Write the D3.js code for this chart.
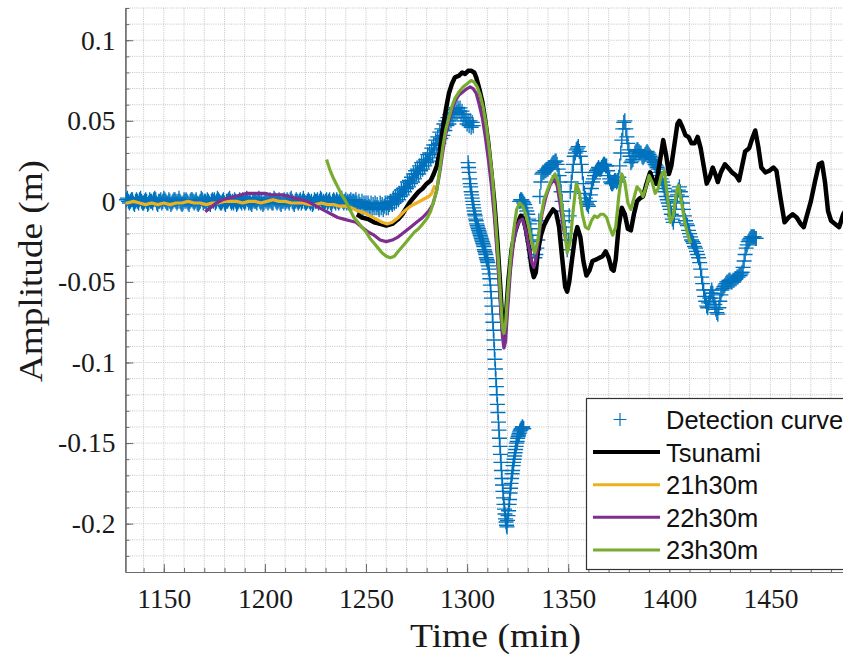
<!DOCTYPE html>
<html>
<head>
<meta charset="utf-8">
<script src="https://cdn.jsdelivr.net/npm/d3@7/dist/d3.min.js"></script>
<style>
	html, body { margin: 0; padding: 0; background: #fff; }
	svg { display: block; }
	.axis path, .axis line { stroke: #6a6a6a; }
	.axis text { font-family: 'Liberation Serif', serif; font-size: 27.5px; fill: #1a1a1a; }
	.grid line { stroke: #c4c4c4; stroke-width: 1; stroke-dasharray: 1,1.2; }
	.legend text { font-family: 'Liberation Sans', Arial, sans-serif; font-size: 25.5px; fill: #111; }
</style>
</head>
<body>
<div id="chart"></div>
<script>
/* global d3 */

// axis ticks
var xTicks = [1150, 1200, 1250, 1300, 1350, 1400, 1450];
var yTicks = [-0.2, -0.15, -0.1, -0.05, 0, 0.05, 0.1];
var yTickLabels = ['-0.2', '-0.15', '-0.1', '-0.05', '0', '0.05', '0.1'];

var seriesNames = ['Detection curve', 'Tsunami', '21h30m', '22h30m', '23h30m'];

// detection curve: uniformly sampled pieces, amplitudes in mm
var detStart = [1131.5, 1300.5, 1326];
var detStep = [0.5, 0.25, 0.5];

var detFlatMm = [
	1, 2, 0, -1, 0, 1, 1, -1, -2, 0, 1, 0, -1, 1, 2, 0, -1, -1, 0, 1,
	0, -2, -1, 1, 0, 0, -1, 1, 2, 1, -1, -2, 0, 0, 1, -1, 0, 2, 1, 0,
	-1, -1, 1, 0, -2, -1, 0, 1, 1, 0, -1, 0, 2, 0, -1, -2, -1, 1, 0, 1,
	0, -1, -2, 0, 1, 1, 0, -1, 0, 1, -1, -2, -1, 0, 2, 1, -1, 0, 0, -1,
	1, 0, -1, -2, 0, 1, 0, 1, -1, 0, 2, 1, 0, -1, -1, 0, 1, -1, -2, 0,
	0, 1, 2, 0, -1, 0, -1, 1, 0, -2, -1, 0, 1, 0, -1, 1, 0, -1, 0, 2,
	1, -1, 0, -1, -2, 0, 1, 0, 0, -1, 1, 2, 0, -1, 0, -2, -1, 1, 0, 1,
	-1, 0, 1, 0, -1, -1, 2, 1, 0, -1, 0, 1, -1, -2, 0, 0, 1, -1, 0, 1,
	0, -1, 1, 2, 0, -1, -2, 0, 1, 0, -1, 0, 1, -1, 0, 2, 0, -1, -1, 0,
	1, 0, -1, 0, -2, -1, 1, 0, 0, 1, -1, 0, 2, 1, -1, 0, -1, 0, 1, -1,
	0, 1, -1, -2, 0, 1, 0, -1, 1, 0, -1, 0, 1, 2, 0, -1, 0, 1, -1, 0,
	-1, 0, 1, -1, 0, 0, -1, 1
];

var detRiseMm = [
	-1, -3, 0, -2, -3, 0, -4, -1, -3, -1, -4, -1, -3, -4, -1, -5, -2, -4, -1, -4,
	-2, -4, -5, -1, -4, -2, -5, -3, -1, -4, -1, -4, -2, 0, -1, -2, 2, -1, 3, 0,
	4, 1, 5, 3, 7, 4, 8, 6, 9, 8, 12, 9, 13, 11, 15, 12, 17, 14, 19, 17,
	20, 17, 22, 19, 24, 20, 25, 22, 26, 24, 29, 25, 30, 27, 33, 29, 35, 32, 38, 35,
	40, 36, 43, 39, 45, 41, 48, 44, 50, 47, 52, 48, 54, 50, 55, 52, 57, 54, 58, 55,
	58, 56, 58, 54, 56, 52, 54, 50, 52, 48, 50, 47, 50, 46, 49, 47
];

var detDropMm = [
	24, 21, 18, 14, 11, 9, 6, 4, 2, 0, -2, -4, -6, -8, -9, -11, -12, -14, -15, -16,
	-17, -18, -19, -20, -21, -22, -23, -24, -25, -26, -27, -28, -30, -31, -32, -33, -35, -36, -37, -38,
	-40, -42, -45, -48, -52, -56, -60, -65, -70, -75, -80, -86, -92, -98, -104, -110, -115, -120, -126, -131,
	-137, -142, -147, -152, -157, -162, -167, -172, -176, -180, -184, -188, -191, -194, -197, -199, -201, -202, -198, -195,
	-192, -188, -185, -181, -178, -175, -172, -169, -167, -164, -162, -160, -158, -156, -154, -152, -150, -149, -147, -146,
	-145, -144, -143, -142, -142, -141, -141, -140, -140, -141, -141
];

var detTailMm = [
	0, 1, 1, 0, -1, -2, -4, -6, -8, -11, -14, -17, -21, -25, -30, -35, -33, -29, -24, -12,
	3, 12, 17, 18, 18, 19, 19, 20, 20, 21, 21, 22, 23, 24, 24, 25, 25, 23, 20, 16,
	12, 6, 0, -6, -12, -16, -20, -30, -24, -9, 6, 12, 18, 23, 28, 30, 32, 33, 34, 31,
	28, 23, 18, 11, 5, 2, -1, -2, -3, 0, 4, 8, 12, 14, 16, 18, 19, 20, 21, 20,
	20, 21, 22, 23, 23, 22, 22, 19, 16, 14, 12, 11, 11, 12, 13, 13, 12, 13, 15, 22,
	30, 38, 45, 49, 50, 45, 40, 36, 32, 28, 24, 25, 26, 28, 30, 31, 32, 32, 31, 30,
	30, 28, 27, 28, 29, 30, 31, 30, 29, 28, 27, 26, 25, 24, 23, 22, 21, 20, 18, 16,
	14, 12, 10, 8, 6, 3, 1, -1, -3, -5, -8, -11, -13, -9, -5, 0, 4, 7, 9, 6,
	3, -1, -5, -9, -12, -14, -15, -18, -20, -22, -24, -25, -26, -28, -29, -31, -33, -35, -38, -42,
	-47, -51, -55, -59, -62, -65, -66, -63, -60, -57, -55, -57, -60, -64, -67, -69, -70, -66, -62, -58,
	-55, -54, -53, -52, -51, -50, -50, -49, -49, -50, -50, -49, -49, -48, -48, -47, -47, -46, -46, -45,
	-44, -41, -37, -33, -29, -27, -25, -24, -23, -22, -22, -22, -22, -23, -23
];

// model curves: [time (min), amplitude (m)]
var tsunami = [
	[1245.5, -0.008], [1248, -0.010], [1251, -0.011], [1254, -0.013], [1257, -0.014], [1260, -0.015],
	[1263, -0.014], [1266, -0.011], [1268, -0.008], [1270, -0.004], [1272, 0.000], [1274, 0.003],
	[1276, 0.006], [1278, 0.008], [1280, 0.011], [1282, 0.013], [1283.5, 0.017], [1285, 0.022],
	[1286.5, 0.031], [1288, 0.045], [1289.5, 0.057], [1291, 0.067], [1292.5, 0.073], [1294, 0.077],
	[1296, 0.078], [1297.5, 0.080], [1299, 0.079], [1300.5, 0.081], [1302, 0.081], [1303.5, 0.080],
	[1304.5, 0.077], [1306, 0.070], [1307.5, 0.062], [1309, 0.050], [1310.5, 0.036], [1312, 0.018],
	[1313.5, -0.001], [1315, -0.025], [1316.5, -0.055], [1317.5, -0.077], [1318, -0.083], [1318.7, -0.080],
	[1319.5, -0.066], [1320.5, -0.048], [1322, -0.030], [1323.5, -0.020], [1325, -0.014], [1326.5, -0.009],
	[1327.5, -0.010], [1329, -0.017], [1330.5, -0.028], [1332, -0.042], [1333, -0.047], [1334, -0.044],
	[1335, -0.031], [1336.5, -0.021], [1338, -0.015], [1340, -0.010], [1342.5, -0.005], [1344, -0.007],
	[1345.5, -0.016], [1347, -0.035], [1348.5, -0.053], [1349.5, -0.056], [1350.5, -0.050], [1352, -0.035],
	[1353.5, -0.021], [1354.5, -0.016], [1356, -0.022], [1357.5, -0.037], [1359, -0.046], [1360.5, -0.043],
	[1362, -0.037], [1364, -0.036], [1365.5, -0.035], [1367, -0.034], [1368.5, -0.031], [1370, -0.035],
	[1371.5, -0.042], [1372.5, -0.043], [1373.5, -0.036], [1375, -0.015], [1376.5, -0.004], [1378, -0.008],
	[1379.5, -0.017], [1381, -0.018], [1382.5, -0.008], [1384, 0.000], [1385.5, 0.002], [1387, 0.003],
	[1388.5, 0.010], [1390.5, 0.018], [1392, 0.013], [1393.5, 0.011], [1395, 0.022], [1397, 0.038],
	[1398.5, 0.028], [1399.8, 0.017], [1401, 0.022], [1402.5, 0.035], [1404, 0.048], [1405, 0.050],
	[1406.5, 0.046], [1408, 0.041], [1409.5, 0.040], [1411, 0.036], [1412.5, 0.036], [1414, 0.040],
	[1415.5, 0.033], [1417, 0.022], [1418.5, 0.011], [1420, 0.015], [1421.5, 0.021], [1423, 0.016],
	[1424, 0.012], [1425.5, 0.018], [1427.5, 0.023], [1429, 0.021], [1431, 0.018], [1433, 0.016],
	[1434.5, 0.013], [1436, 0.022], [1437.5, 0.031], [1439.5, 0.033], [1441, 0.039], [1442.5, 0.044],
	[1444, 0.034], [1445.5, 0.021], [1447.5, 0.018], [1449.5, 0.019], [1451.5, 0.021], [1453, 0.019],
	[1455, 0.002], [1457, -0.013], [1459, -0.010], [1461, -0.008], [1463, -0.010], [1465, -0.014],
	[1466.5, -0.016], [1468, -0.009], [1470, 0.000], [1472, 0.012], [1474, 0.023], [1475.5, 0.024],
	[1477, 0.012], [1478.5, -0.006], [1480, -0.012], [1482, -0.014], [1484, -0.016], [1486, -0.008],
	[1488, -0.004]
];

var f2130 = [
	[1129.5, -0.001], [1132, -0.001], [1135, 0.000], [1138, -0.001], [1141, -0.002], [1144, -0.001],
	[1147, -0.002], [1150, -0.001], [1153, -0.002], [1156, -0.001], [1159, -0.001], [1162, 0.000],
	[1165, -0.001], [1168, -0.001], [1171, -0.002], [1174, -0.001], [1177, -0.001], [1180, 0.000],
	[1183, 0.000], [1186, 0.000], [1189, -0.001], [1192, 0.000], [1195, 0.000], [1198, -0.001],
	[1201, 0.000], [1204, 0.001], [1207, 0.000], [1210, 0.000], [1213, -0.001], [1216, -0.001],
	[1219, -0.001], [1222, -0.002], [1225, -0.002], [1228, -0.001], [1231, -0.002], [1234, -0.002],
	[1237, -0.003], [1240, -0.003], [1243, -0.004], [1246, -0.006], [1249, -0.007], [1252, -0.009],
	[1255, -0.011], [1258, -0.013], [1260.5, -0.014], [1263, -0.013], [1266, -0.010], [1269, -0.006],
	[1272, -0.003], [1275, -0.001], [1278, 0.001], [1281, 0.003], [1282.5, 0.005], [1284, 0.010]
];

var f2230 = [
	[1170.5, -0.0065], [1173, -0.004], [1176, -0.001], [1179, 0.001], [1182, 0.002], [1185, 0.003],
	[1188, 0.004], [1191, 0.005], [1194, 0.005], [1197, 0.005], [1200, 0.005], [1203, 0.004],
	[1206, 0.004], [1209, 0.004], [1212, 0.003], [1215, 0.002], [1218, 0.001], [1221, 0.000],
	[1224, -0.002], [1227, -0.004], [1230, -0.006], [1233, -0.008], [1236, -0.010], [1239, -0.011],
	[1242, -0.012], [1245, -0.013], [1248, -0.016], [1251, -0.019], [1254, -0.021], [1257, -0.024],
	[1260, -0.025], [1263, -0.024], [1266, -0.022], [1269, -0.019], [1272, -0.016], [1275, -0.013],
	[1278, -0.010], [1281, -0.006], [1283, -0.002], [1285, 0.007], [1286.5, 0.018], [1288, 0.031],
	[1289.5, 0.042], [1291, 0.050], [1292.5, 0.057], [1294, 0.062], [1296, 0.066], [1298, 0.068],
	[1300, 0.070], [1301.5, 0.071], [1303, 0.070], [1304.5, 0.067], [1306, 0.060], [1307.5, 0.052],
	[1309, 0.040], [1310.5, 0.026], [1312, 0.010], [1313.5, -0.010], [1315, -0.035], [1316.5, -0.065],
	[1317.5, -0.084], [1318.2, -0.091], [1319, -0.087], [1320, -0.068], [1321.5, -0.042], [1323, -0.025],
	[1324.5, -0.016], [1326, -0.012], [1327.5, -0.011], [1329, -0.018], [1330.5, -0.028], [1332, -0.038],
	[1333, -0.041], [1334, -0.036], [1335.5, -0.022], [1337, -0.008], [1339, 0.003], [1341, 0.010],
	[1343, 0.014], [1344.5, 0.010], [1346, -0.002], [1347.5, -0.016], [1349, -0.025]
];

var f2330 = [
	[1230.5, 0.026], [1232, 0.020], [1234, 0.014], [1236, 0.009], [1238, 0.004], [1240, 0.000],
	[1242, -0.005], [1244, -0.010], [1246, -0.013], [1248, -0.016], [1250, -0.019], [1252, -0.023],
	[1254, -0.026], [1256, -0.029], [1258, -0.032], [1260, -0.034], [1262, -0.035], [1264, -0.034],
	[1266, -0.031], [1268, -0.028], [1270, -0.025], [1272, -0.022], [1274, -0.019], [1276, -0.017],
	[1278, -0.014], [1280, -0.011], [1282, -0.006], [1283.5, 0.000], [1285, 0.007], [1286.5, 0.020],
	[1288, 0.034], [1289.5, 0.045], [1291, 0.052], [1292.5, 0.059], [1294, 0.064], [1296, 0.068],
	[1298, 0.071], [1300, 0.073], [1302, 0.075], [1303.5, 0.074], [1305, 0.071], [1306.5, 0.066],
	[1308, 0.058], [1309.5, 0.047], [1311, 0.032], [1312.5, 0.015], [1314, -0.010], [1315.5, -0.037],
	[1316.7, -0.062], [1317.5, -0.078], [1318.2, -0.082], [1319, -0.076], [1320, -0.058], [1321.5, -0.035],
	[1323, -0.018], [1324.5, -0.005], [1326, -0.001], [1327.5, -0.003], [1329, -0.008], [1330.5, -0.016],
	[1332, -0.026], [1333.5, -0.032], [1335, -0.024], [1336.5, -0.010], [1338, 0.001], [1340, 0.008],
	[1342, 0.014], [1343.5, 0.017], [1345, 0.012], [1346.5, 0.001], [1348, -0.016], [1349.5, -0.032],
	[1351, -0.025], [1352.5, -0.005], [1354, 0.011], [1355.5, 0.006], [1357, -0.008], [1358.5, -0.016],
	[1360, -0.017], [1361.5, -0.012], [1363, -0.009], [1364.5, -0.010], [1366, -0.008], [1367.5, -0.008],
	[1369, -0.010], [1370.5, -0.016], [1372, -0.021], [1373.5, -0.016], [1375, 0.003], [1376.5, 0.017],
	[1378, 0.012], [1379.5, -0.001], [1381, -0.005], [1382.5, 0.002], [1384, 0.009], [1385.5, 0.007],
	[1387, 0.003], [1388.5, 0.009], [1390, 0.016], [1391.5, 0.012], [1393, 0.005], [1394.5, 0.008],
	[1396, 0.016], [1397.5, 0.019], [1399, 0.004], [1400.5, -0.013], [1402, -0.009], [1403.5, 0.006],
	[1404.5, 0.010], [1406, 0.000], [1407.5, -0.012], [1409, -0.020], [1410.5, -0.026]
];

var buildChart = function (el) {
	'use strict';

	function TsunamiChart (el) {
		this.detection = this.setDetection();
		this.scales = this.setScales();
		this.line = this.setLine();

		this.svg = this.buildSVG(el);
		this.addClip();
		this.addGrid();
		this.addAxes();
		this.addLabels();
		this.displayDetection();
		this.displayLines();
		this.displayLegend();
	}

	TsunamiChart.prototype = {
		width: 843,
		height: 654,
		plot: {left: 125.4, top: 8, bottom: 572, right: 871.5},
		colors: ['#0072bd', '#000000', '#edb120', '#7e2f8e', '#77ac30'],

		// turn the sampled pieces into [time, metres] pairs
		setDetection: function () {
			var pieces = [detFlatMm.concat(detRiseMm), detDropMm, detTailMm];
			var res = [];
			pieces.forEach(function (vals, p) {
				vals.forEach(function (v, i) {
					res.push([detStart[p] + i * detStep[p], v / 1000]);
				});
			});
			return res;
		},

		setScales: function () {
			return {
				x: d3.scaleLinear().domain([1131, 1500]).range([this.plot.left, this.plot.right]),
				y: d3.scaleLinear().domain([-0.23, 0.12]).range([this.plot.bottom, this.plot.top])
			};
		},

		setLine: function () {
			var that = this;
			return d3.line()
				.curve(d3.curveLinear)
				.x(function (d) { return that.scales.x(d[0]); })
				.y(function (d) { return that.scales.y(d[1]); });
		},

		buildSVG: function (el) {
			return d3.select(el).append('svg')
				.attr('width', this.width)
				.attr('height', this.height);
		},

		addClip: function () {
			this.svg.append('clipPath').attr('id', 'plotClip')
				.append('rect')
					.attr('x', this.plot.left)
					.attr('y', this.plot.top)
					.attr('width', this.plot.right - this.plot.left)
					.attr('height', this.plot.bottom - this.plot.top);
		},

		addGrid: function () {
			var that = this;
			var g = this.svg.append('g').attr('class', 'grid');
			g.selectAll('.gx')
				.data(d3.range(1140, 1500, 10))
				.enter().append('line')
					.attr('x1', function (d) { return that.scales.x(d); })
					.attr('x2', function (d) { return that.scales.x(d); })
					.attr('y1', this.plot.top)
					.attr('y2', this.plot.bottom);
			g.selectAll('.gy')
				.data(d3.range(-22, 13).map(function (d) { return d / 100; }))
				.enter().append('line')
					.attr('y1', function (d) { return that.scales.y(d); })
					.attr('y2', function (d) { return that.scales.y(d); })
					.attr('x1', this.plot.left)
					.attr('x2', this.width);
		},

		addAxes: function () {
			var x = this.scales.x, y = this.scales.y;
			var bottom = 'translate(0,' + this.plot.bottom + ')';
			var left = 'translate(' + this.plot.left + ',0)';

			// minor ticks
			this.svg.append('g').attr('class', 'axis')
				.attr('transform', bottom)
				.call(d3.axisBottom(x).tickValues(d3.range(1140, 1500, 10)).tickSize(-4).tickSizeOuter(0).tickFormat(''));
			this.svg.append('g').attr('class', 'axis')
				.attr('transform', left)
				.call(d3.axisLeft(y).tickValues(d3.range(-22, 13).map(function (d) { return d / 100; })).tickSize(-4).tickSizeOuter(0).tickFormat(''));

			this.svg.append('g').attr('class', 'axis axis--x')
				.attr('transform', bottom)
				.call(d3.axisBottom(x).tickValues(xTicks).tickSize(-8).tickSizeOuter(0).tickPadding(16.5)
					.tickFormat(d3.format('d')));
			this.svg.append('g').attr('class', 'axis axis--y')
				.attr('transform', left)
				.call(d3.axisLeft(y).tickValues(yTicks).tickSize(-8).tickSizeOuter(0).tickPadding(10)
					.tickFormat(function (d, i) { return yTickLabels[i]; }));

			this.svg.selectAll('.axis .domain').attr('stroke-width', 1.2);
		},

		addLabels: function () {
			this.svg.append('text')
				.attr('x', 495.5)
				.attr('y', 647)
				.attr('text-anchor', 'middle')
				.attr('textLength', 171)
				.attr('lengthAdjust', 'spacingAndGlyphs')
				.style('font-family', "'Liberation Serif', serif")
				.style('font-size', '34px')
				.style('fill', '#1a1a1a')
				.text('Time (min)');

			this.svg.append('text')
				.attr('transform', 'translate(42,271) rotate(-90)')
				.attr('text-anchor', 'middle')
				.attr('textLength', 222)
				.attr('lengthAdjust', 'spacingAndGlyphs')
				.style('font-family', "'Liberation Serif', serif")
				.style('font-size', '34px')
				.style('fill', '#1a1a1a')
				.text('Amplitude (m)');
		},

		displayDetection: function () {
			var that = this;
			this.svg.append('g')
				.attr('class', 'detection')
				.selectAll('path')
				.data(this.detection)
				.enter().append('path')
					.attr('transform', function (d) {
						return 'translate(' + that.scales.x(d[0]) + ',' + that.scales.y(d[1]) + ')';
					})
					.attr('d', 'M-7.5,0H7.5M0,-7.5V7.5')
					.style('fill', 'none')
					.style('stroke', this.colors[0])
					.style('stroke-width', 1.35);
		},

		displayLines: function () {
			var that = this;
			var sets = [
				{data: tsunami, color: this.colors[1], width: 4.5},
				{data: f2130, color: this.colors[2], width: 3.2},
				{data: f2230, color: this.colors[3], width: 3.2},
				{data: f2330, color: this.colors[4], width: 3.2}
			];
			this.svg.append('g')
				.attr('clip-path', 'url(#plotClip)')
				.selectAll('.line')
				.data(sets)
				.enter().append('path')
					.attr('class', 'line')
					.attr('d', function (d) { return that.line(d.data); })
					.style('fill', 'none')
					.style('stroke', function (d) { return d.color; })
					.style('stroke-width', function (d) { return d.width; })
					.style('stroke-linejoin', 'round');
		},

		displayLegend: function () {
			var that = this;
			var legend = this.svg.append('g')
				.attr('class', 'legend')
				.attr('transform', 'translate(586,398)');

			legend.append('rect')
				.attr('x', 0.5).attr('y', 0.5)
				.attr('width', 320).attr('height', 171)
				.style('fill', '#fff')
				.style('stroke', '#333')
				.style('stroke-width', 1.2);

			var rowY = function (i) { return 21.5 + i * 32.6; };

			legend.append('path')
				.attr('d', 'M34,' + (rowY(0) - 6.5) + 'V' + (rowY(0) + 6.5) + 'M27.5,' + rowY(0) + 'H40.5')
				.style('stroke', this.colors[0])
				.style('stroke-width', 1.2);

			legend.selectAll('.sample')
				.data(seriesNames.slice(1))
				.enter().append('line')
					.attr('class', 'sample')
					.attr('x1', 7).attr('x2', 74)
					.attr('y1', function (d, i) { return rowY(i + 1); })
					.attr('y2', function (d, i) { return rowY(i + 1); })
					.style('stroke', function (d, i) { return that.colors[i + 1]; })
					.style('stroke-width', function (d, i) { return i === 0 ? 4 : 3; });

			legend.selectAll('.desc')
				.data(seriesNames)
				.enter().append('text')
					.attr('class', 'desc')
					.attr('x', 80)
					.attr('y', function (d, i) { return rowY(i) + 9.5; })
					.text(function (d) { return d; });
			return legend;
		}
	};

	return new TsunamiChart(el);
};

buildChart('#chart');
</script>
</body>
</html>
